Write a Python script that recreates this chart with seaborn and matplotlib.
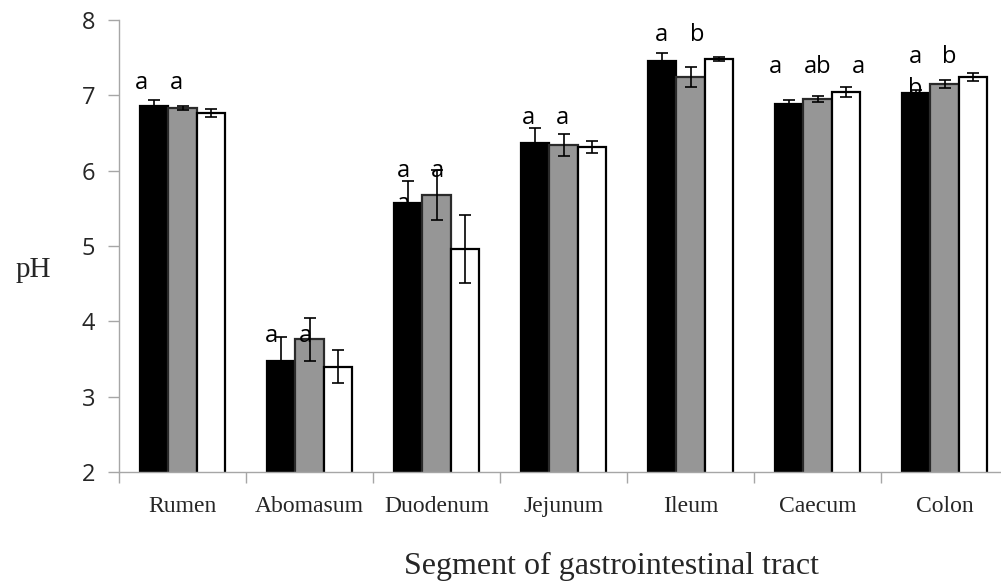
import numpy as np
import pandas as pd
import matplotlib
matplotlib.use("Agg")
import matplotlib.pyplot as plt
import seaborn as sns

# Gastrointestinal segments and mean pH per diet group
segments = ["Rumen", "Abomasum", "Duodenum", "Jejunum", "Ileum", "Caecum", "Colon"]
groups = ["Diet 1", "Diet 2", "Diet 3"]

ph_diet1 = [6.86, 3.47, 5.57, 6.37, 7.46, 6.88, 7.03]
ph_diet2 = [6.83, 3.76, 5.68, 6.34, 7.24, 6.95, 7.15]
ph_diet3 = [6.77, 3.40, 4.96, 6.31, 7.48, 7.04, 7.24]

se_diet1 = [0.08, 0.32, 0.29, 0.19, 0.10, 0.06, 0.04]
se_diet2 = [0.03, 0.28, 0.33, 0.15, 0.13, 0.045, 0.05]
se_diet3 = [0.055, 0.22, 0.45, 0.08, 0.025, 0.065, 0.055]

# Significance letters: (segment, offset within group, height, letter, hidden behind bar)
sig_letters = [
    ("Rumen", -0.32, 7.16, "a", False), ("Rumen", -0.05, 7.16, "a", False),
    ("Abomasum", -0.30, 3.81, "a", False), ("Abomasum", -0.03, 3.81, "a", False),
    ("Abomasum", -0.30, 3.33, "a", True),
    ("Duodenum", -0.26, 6.00, "a", False), ("Duodenum", 0.01, 6.00, "a", False),
    ("Duodenum", -0.26, 5.56, "a", True),
    ("Jejunum", -0.28, 6.70, "a", False), ("Jejunum", -0.01, 6.70, "a", False),
    ("Ileum", -0.23, 7.80, "a", False), ("Ileum", 0.05, 7.80, "b", False),
    ("Caecum", -0.33, 7.38, "a", False), ("Caecum", 0.00, 7.38, "ab", False),
    ("Caecum", 0.32, 7.38, "a", False),
    ("Colon", -0.23, 7.51, "a", False), ("Colon", 0.04, 7.51, "b", False),
    ("Colon", -0.23, 7.08, "b", True),
]

df = pd.DataFrame({
    "segment": segments * 3,
    "group": [g for g in groups for _ in segments],
    "ph": ph_diet1 + ph_diet2 + ph_diet3,
    "se": se_diet1 + se_diet2 + se_diet3,
})

sns.set_style("white")
plt.rcParams["font.family"] = ["DejaVu Sans"]

fig = plt.figure(figsize=(10.01, 5.85), dpi=100)
ax = fig.add_axes([119 / 1001, 1 - 472 / 585, 889 / 1001, 452 / 585])

fills = ["#000000", "#969696", "#ffffff"]
edges = ["#000000", "#2a2a2a", "#000000"]
sns.barplot(data=df, x="segment", y="ph", hue="group", order=segments,
            hue_order=groups, palette=fills, width=0.67, errorbar=None,
            legend=False, ax=ax, saturation=1)

# outline colours and error bars taken from the drawn bars
for cont, edge, g in zip(ax.containers, edges, groups):
    sub = df[df["group"] == g].set_index("segment").loc[segments]
    xs, ys = [], []
    for patch in cont.patches:
        patch.set_edgecolor(edge)
        patch.set_linewidth(1.6)
        xs.append(patch.get_x() + patch.get_width() / 2)
        ys.append(patch.get_y() + patch.get_height())
    ax.errorbar(xs, ys, yerr=sub["se"].values, fmt="none", ecolor="black",
                elinewidth=1.2, capsize=4.5, capthick=1.2, zorder=4)

ax.set_ylim(2, 8)
ax.set_xlim(-0.5, 6.5)
ax.set_yticks([2, 3, 4, 5, 6, 7, 8])

letter_font = dict(family="Open Sans", fontsize=17, color="black")
for seg, dx, yv, txt, hidden in sig_letters:
    ax.text(segments.index(seg) + dx, yv, txt, ha="center", va="center",
            zorder=0.5 if hidden else 5, **letter_font)

# spines and ticks
for side in ["top", "right"]:
    ax.spines[side].set_visible(False)
for side in ["left", "bottom"]:
    ax.spines[side].set_color("#a6a6a6")
    ax.spines[side].set_linewidth(1.0)

ax.tick_params(axis="y", which="major", direction="out", length=8,
               color="#a6a6a6", width=1.0, pad=9, labelsize=17, left=True)
for lab in ax.get_yticklabels():
    lab.set_fontfamily("Open Sans")

ax.set_xticks(np.arange(len(segments)))
ax.set_xticklabels(segments, fontfamily="Liberation Serif", fontsize=17)
ax.tick_params(axis="x", which="major", length=0, pad=17)
ax.set_xticks(np.arange(len(segments) + 1) - 0.5, minor=True)
ax.tick_params(axis="x", which="minor", direction="out", length=8,
               color="#a6a6a6", width=1.0, bottom=True)

ax.set_xlabel("")
ax.set_ylabel("")
fig.text(612 / 1001, 1 - 566 / 585, "Segment of gastrointestinal tract",
         family="Liberation Serif", fontsize=23, ha="center", va="center")
fig.text(33 / 1001, 1 - 270 / 585, "pH", family="Liberation Serif",
         fontsize=21, ha="center", va="center")
ax.grid(False)

fig.savefig("out.png", dpi=100)
